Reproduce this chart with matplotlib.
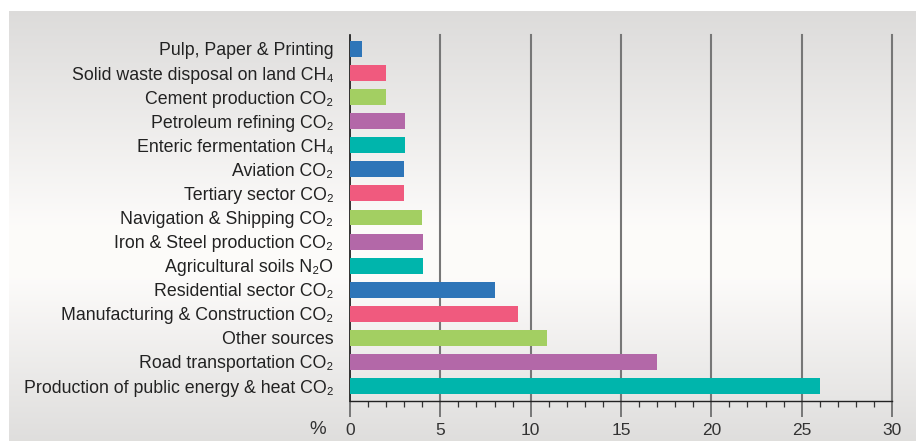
import numpy as np
import matplotlib.pyplot as plt
from matplotlib.ticker import MultipleLocator

# data, top to bottom as in the picture
sources = [
    "Pulp, Paper & Printing",
    "Solid waste disposal on land CH₄",
    "Cement production CO₂",
    "Petroleum refining CO₂",
    "Enteric fermentation CH₄",
    "Aviation CO₂",
    "Tertiary sector CO₂",
    "Navigation & Shipping CO₂",
    "Iron & Steel production CO₂",
    "Agricultural soils N₂O",
    "Residential sector CO₂",
    "Manufacturing & Construction CO₂",
    "Other sources",
    "Road transportation CO₂",
    "Production of public energy & heat CO₂",
]
shares = [0.65, 2.0, 2.0, 3.05, 3.05, 3.0, 3.0, 4.0, 4.05, 4.05, 8.0, 9.3, 10.9, 17.0, 26.0]
palette = ["#2e75b8", "#f05a7e", "#a3cf62", "#b368a8", "#00b5ac"]

plt.rcParams['font.family'] = ['Liberation Sans', 'DejaVu Sans']

W, H = 919, 441
fig = plt.figure(figsize=(W / 100, H / 100), dpi=100)

# gray gradient panel behind everything
bg = fig.add_axes([9 / W, 0, 907 / W, 1 - 11 / H], zorder=-5)
t = np.linspace(0, 1, 256)
shade = np.interp(t, [0, 0.5, 0.62, 1], [0.865, 0.99, 0.99, 0.875])
grad = np.stack([shade, shade * 0.995, shade * 0.99], axis=-1)[:, None, :]
bg.imshow(grad, aspect='auto', extent=[0, 1, 0, 1], origin='upper')
bg.axis('off')

ax = fig.add_axes([350 / W, 1 - 401 / H, 542 / W, 366 / H])
ax.patch.set_alpha(0)

n = len(sources)
ypos = np.arange(n)[::-1]
colors = [palette[i % len(palette)] for i in range(n)]
ax.barh(ypos, shares, height=0.66, color=colors, zorder=3)

ax.set_xlim(0, 30)
ax.set_ylim(-0.62, n - 1 + 0.58)
ax.set_yticks(ypos)
ax.set_yticklabels(sources, fontsize=12.8, color='#222222')
ax.tick_params(axis='y', length=0, pad=12)

ax.xaxis.set_major_locator(MultipleLocator(5))
ax.xaxis.set_minor_locator(MultipleLocator(1))
ax.tick_params(axis='x', which='major', length=11.5, width=1.4, color='#777777',
               labelsize=12.5, labelcolor='#333333', pad=4)
ax.tick_params(axis='x', which='minor', length=4.3, width=0.9, color='#333333')
ax.get_xticklines()[0].set_color('#111111')

for v in range(5, 31, 5):
    ax.axvline(v, color='#777777', lw=1.5, zorder=1, clip_on=False)

for s in ['top', 'right']:
    ax.spines[s].set_visible(False)
ax.spines['left'].set_color('#111111')
ax.spines['left'].set_linewidth(1.2)
ax.spines['bottom'].set_color('#222222')
ax.spines['bottom'].set_linewidth(1.0)

ax.text(-0.045, -0.077, "%", transform=ax.transAxes, fontsize=13.5,
        color='#333333', ha='right', va='center')

fig.savefig("out.png", dpi=100)
